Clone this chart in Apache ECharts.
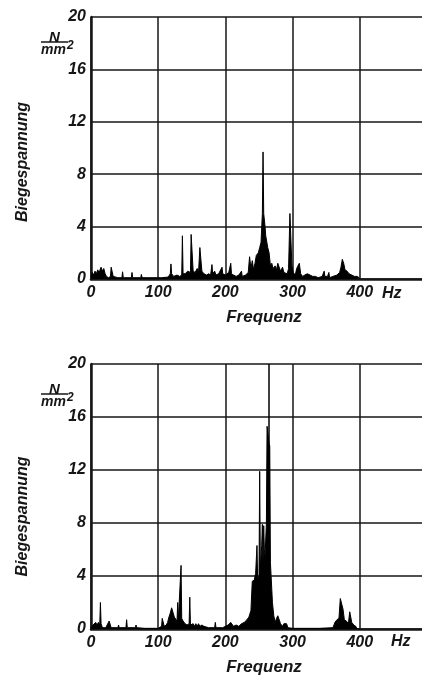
<!DOCTYPE html>
<html>
<head>
<meta charset="utf-8">
<script src="https://cdn.jsdelivr.net/npm/echarts@6/dist/echarts.min.js"></script>
<style>
  html, body { margin: 0; padding: 0; background: #fff; }
  #main { width: 422px; height: 677px; }
</style>
</head>
<body>
<div id="main"></div>
<script>
// Spektren: [Frequenz Hz, Biegespannung N/mm2]
var topSpectrum = [
  [0,0.2],[2,0.5],[4,0.3],[6,0.6],[8,0.4],[10,0.7],[12,0.5],[15,0.9],[17,0.6],[19,0.8],[21,0.4],[23,0.2],
  [26,0.1],[29,0.2],[30,0.9],[32,0.9],[33,0.2],[40,0.1],[46,0.1],[47,0.55],[48,0.1],[60,0.1],[61,0.5],[62,0.1],
  [74,0.1],[75,0.35],[76,0.1],[86,0.1],[87,0.2],[88,0.1],[99,0.1],[100,0.25],[105,0.1],[115,0.15],[118,0.4],
  [119,1.15],[120,0.4],[123,0.2],[128,0.3],[132,0.2],[135,0.3],[136,3.3],[137,0.4],[140,0.4],[144,0.6],
  [148,0.5],[149,3.4],[151,3.3],[152,0.6],[155,0.5],[158,0.8],[160,0.5],[162,2.4],[164,2.5],[165,0.6],
  [168,0.4],[172,0.3],[175,0.4],[178,0.3],[180,1.1],[181,0.4],[184,0.6],[186,0.3],[190,0.4],[192,0.3],
  [195,0.9],[196,0.4],[200,0.3],[205,0.5],[208,1.2],[209,0.4],[212,0.3],[216,0.2],[220,0.3],[224,0.6],
  [225,0.2],[230,0.3],[234,0.5],[236,1.7],[238,0.8],[240,1.4],[242,0.7],[244,1.2],[246,1.8],[249,2.0],
  [251,2.4],[253,2.8],[255,5.0],[256,9.7],[257,5.0],[258,5.1],[259,4.0],[260,3.3],[262,3.2],[263,2.4],
  [265,2.0],[267,1.0],[269,1.2],[271,0.8],[274,1.0],[276,0.7],[278,1.2],[280,1.3],[282,0.6],[285,0.9],
  [287,0.5],[289,0.6],[292,0.4],[294,0.8],[296,5.0],[298,4.9],[299,1.0],[301,0.5],[304,0.3],[306,0.8],
  [308,1.0],[310,1.2],[312,0.4],[315,0.2],[318,0.3],[322,0.4],[326,0.3],[330,0.2],[334,0.2],[338,0.1],
  [344,0.2],[347,0.6],[348,0.2],[352,0.2],[354,0.5],[355,0.1],[360,0.2],[366,0.3],[370,0.5],[372,0.9],
  [374,1.5],[376,1.2],[378,0.7],[381,0.6],[384,0.4],[388,0.3],[392,0.2],[396,0.2],[399,0.1],[400,0]
];
var bottomSpectrum = [
  [0,0.1],[3,0.3],[5,0.2],[7,0.5],[9,0.3],[11,0.5],[13,0.3],[14,2.0],[15,0.4],[17,0.1],[22,0.1],[27,0.6],
  [29,0.6],[30,0.1],[40,0.1],[41,0.3],[42,0.1],[52,0.1],[53,0.7],[54,0.1],[66,0.1],[67,0.3],[68,0.1],
  [80,0.05],[100,0.05],[105,0.2],[106,0.8],[108,0.8],[109,0.2],[112,0.3],[114,0.5],[116,0.9],[118,1.2],
  [120,1.6],[122,1.5],[124,0.9],[126,0.8],[128,0.6],[129,2.0],[130,0.7],[132,0.6],[134,4.8],[135,0.8],
  [137,0.6],[140,0.4],[143,0.3],[146,0.4],[147,2.4],[148,0.3],[152,0.4],[154,0.2],[156,0.4],[158,0.2],
  [160,0.4],[162,0.2],[165,0.3],[168,0.2],[175,0.1],[184,0.1],[185,0.5],[186,0.1],[196,0.1],[200,0.2],
  [204,0.3],[208,0.5],[210,0.6],[212,0.2],[216,0.3],[220,0.2],[224,0.4],[228,0.5],[232,0.7],[235,0.9],
  [238,1.4],[240,3.6],[243,3.7],[245,4.2],[247,6.3],[248,3.8],[250,4.0],[251,11.9],[252,4.5],[254,6.3],
  [255,7.9],[256,5.0],[257,7.8],[258,6.0],[259,5.5],[261,8.0],[262,15.3],[264,15.3],[265,14.0],[266,13.8],
  [267,5.0],[268,4.0],[270,2.0],[272,1.0],[274,0.5],[276,0.8],[278,1.0],[280,1.0],[282,0.4],[285,0.2],
  [287,0.4],[291,0.4],[293,0.1],[300,0.05],[340,0.05],[341,0.2],[342,0.05],[360,0.1],[363,0.5],[366,0.7],
  [369,0.8],[371,2.3],[373,2.2],[375,1.5],[377,0.7],[380,0.6],[383,0.4],[385,1.3],[386,1.3],[388,0.5],
  [391,0.3],[394,0.2],[396,0],[400,0]
];
var markerHz = 264;   // senkrechte Markierung im unteren Bild
var xTicks = [0, 100, 200, 300, 400];
var yTicks = [0, 4, 8, 12, 16, 20];

var ink = '#161616';
var labelFont = { color: ink, fontSize: 16, fontStyle: 'italic', fontWeight: 'bold', fontFamily: 'Liberation Sans' };

function xAxisFor(i) {
  return {
    type: 'value', gridIndex: i, min: 0, max: 500, interval: 100,
    axisLine: { lineStyle: { color: ink, width: 2.5 } },
    axisTick: { show: false },
    splitLine: { lineStyle: { color: ink, width: 1.5 } },
    axisLabel: Object.assign({ margin: 6, formatter: function (v) { return xTicks.indexOf(v) >= 0 ? String(v) : ''; } }, labelFont),
    name: 'Frequenz', nameLocation: 'middle', nameGap: 30,
    nameTextStyle: Object.assign({}, labelFont, { fontSize: 17, padding: [0, 0, 0, 10] })
  };
}
function yAxisFor(i, shift) {
  return {
    type: 'value', gridIndex: i, min: 0, max: 20, interval: 4,
    axisLine: { show: true, lineStyle: { color: ink, width: 2.5 } },
    axisTick: { show: false },
    splitLine: { lineStyle: { color: ink, width: 1.5 } },
    axisLabel: Object.assign({ margin: 5, formatter: function (v) { return yTicks.indexOf(v) >= 0 ? String(v) : ''; } }, labelFont),
    name: 'Biegespannung', nameLocation: 'middle', nameGap: 60, nameRotate: 90,
    nameTextStyle: Object.assign({}, labelFont, { fontSize: 16, padding: [0, shift, 0, 0] })
  };
}
function unitLabel(top) {
  return [
    { type: 'text', left: 49, top: top, style: { text: 'N', font: 'italic bold 15px "Liberation Sans"', fill: ink } },
    { type: 'line', shape: { x1: 41, y1: top + 12, x2: 68, y2: top + 12 }, style: { stroke: ink, lineWidth: 1.5 } },
    { type: 'text', left: 41, top: top + 13, style: { text: 'mm', font: 'italic bold 14px "Liberation Sans"', fill: ink } },
    { type: 'text', left: 67, top: top + 10, style: { text: '2', font: 'italic bold 12px "Liberation Sans"', fill: ink } }
  ];
}
function spectrum(i, data, extra) {
  return Object.assign({
    type: 'line', xAxisIndex: i, yAxisIndex: i, data: data,
    showSymbol: false, symbol: 'none', silent: true,
    lineStyle: { color: '#000', width: 1 },
    areaStyle: { color: '#000', opacity: 1 }
  }, extra || {});
}

var chart = echarts.init(document.getElementById('main'));
chart.setOption({
  backgroundColor: '#fff',
  animation: false,
  grid: [
    { left: 91, top: 17, width: 336, height: 262, outerBoundsMode: 'none', containLabel: false },
    { left: 91, top: 364, width: 336, height: 265, outerBoundsMode: 'none', containLabel: false }
  ],
  xAxis: [xAxisFor(0), xAxisFor(1)],
  yAxis: [yAxisFor(0, 28), yAxisFor(1, 40)],
  series: [
    spectrum(0, topSpectrum),
    spectrum(1, bottomSpectrum, {
      markLine: {
        silent: true, symbol: 'none', label: { show: false },
        lineStyle: { color: '#000', width: 1.5, type: 'solid' },
        data: [{ xAxis: markerHz }]
      }
    })
  ],
  graphic: [].concat(
    unitLabel(30),
    unitLabel(382),
    [
      { type: 'text', left: 382, top: 286, style: { text: 'Hz', font: 'italic bold 16px "Liberation Sans"', fill: ink } },
      { type: 'text', left: 391, top: 634, style: { text: 'Hz', font: 'italic bold 16px "Liberation Sans"', fill: ink } }
    ]
  )
});
</script>
</body>
</html>
